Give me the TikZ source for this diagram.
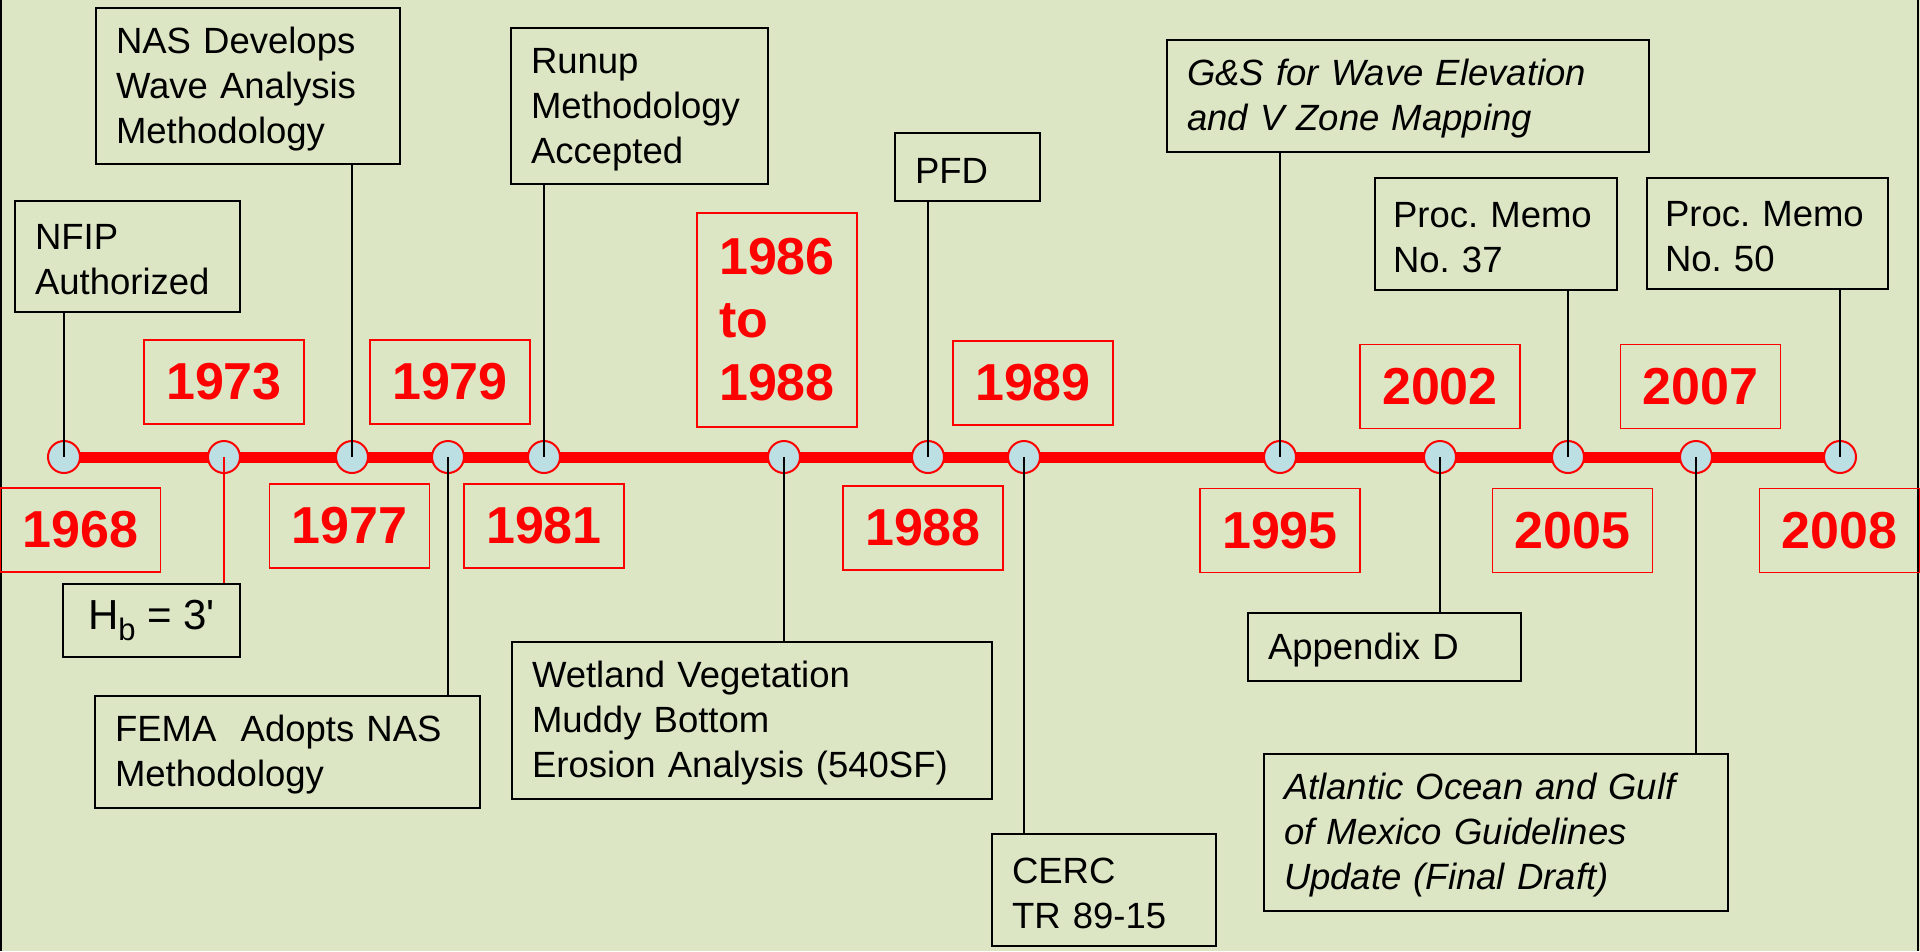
\documentclass[tikz,border=0pt]{standalone}
\usepackage{fontspec}
\setmainfont{Liberation Sans}
\newfontfamily\hbfont[Ligatures=TeXOff]{Liberation Sans}
\definecolor{bgc}{RGB}{220,230,197}
\definecolor{dotc}{RGB}{188,223,228}
\definecolor{tlred}{RGB}{255,0,0}
\newcommand\evfont{\fontsize{36.5}{45}\selectfont\frenchspacing}
\newcommand\yrfont{\fontsize{52}{63}\selectfont\bfseries}
\begin{document}
\frenchspacing
\begin{tikzpicture}[x=1pt,y=-1pt,
  evbox/.style={draw=black, line width=2.5pt, inner sep=0pt, align=left, font=\evfont, text=black, text height=32pt},
  yrbox/.style={draw=tlred, line width=1.8pt, inner sep=0pt, align=center, font=\yrfont, text=tlred, minimum width=160pt, minimum height=84pt},
  dot/.style={circle, draw=tlred, fill=dotc, line width=2pt, minimum size=32pt, inner sep=0pt},
  timeline/.style={draw=tlred, line width=11pt},
  conn/.style={draw=black, line width=2pt},
  rconn/.style={draw=tlred, line width=2pt},
  frame/.style={draw=black, line width=1.5pt}]
\fill[bgc] (0,0) rectangle (1920,951);
\useasboundingbox (0,0) rectangle (1920,951);
\coordinate (fl1) at (1,0); \coordinate (fl2) at (1,951);
\coordinate (fr1) at (1918,0); \coordinate (fr2) at (1918,951);
\draw[frame] (fl1) -- (fl2);
\draw[frame] (fr1) -- (fr2);

% timeline positions
\coordinate (p1968) at (64,457);
\coordinate (p1973) at (224,457);
\coordinate (p1977) at (352,457);
\coordinate (p1979) at (448,457);
\coordinate (p1981) at (544,457);
\coordinate (p1986) at (784,457);
\coordinate (p1988) at (928,457);
\coordinate (p1989) at (1024,457);
\coordinate (p1995) at (1280,457);
\coordinate (p2002) at (1440,457);
\coordinate (p2005) at (1568,457);
\coordinate (p2007) at (1696,457);
\coordinate (p2008) at (1840,457);
\draw[timeline] (p1968) -- (p2008);
\foreach \n in {1968,1973,1977,1979,1981,1986,1988,1989,1995,2002,2005,2007,2008}
  \node[dot] (d\n) at (p\n) {};

% year boxes
\node[yrbox] (y1968) at (80.5,530) {1968};
\node[yrbox] (y1973) at (224,382) {1973};
\node[yrbox] (y1977) at (349.5,526) {1977};
\node[yrbox] (y1979) at (450,382) {1979};
\node[yrbox] (y1981) at (544,526) {1981};
\node[yrbox, minimum height=214pt, align=left] (y1986) at (777,320) {1986\\to\\1988};
\node[yrbox] (y1988) at (923,528) {1988};
\node[yrbox] (y1989) at (1033,383) {1989};
\node[yrbox] (y1995) at (1280,530.5) {1995};
\node[yrbox] (y2002) at (1440,386.5) {2002};
\node[yrbox] (y2005) at (1572.5,530.5) {2005};
\node[yrbox] (y2007) at (1700.5,386.5) {2007};
\node[yrbox] (y2008) at (1839.5,530.5) {2008};

% event boxes
\node[evbox, minimum width=225pt, minimum height=111pt, text width=185pt] (nfip) at (127.5,256.5) {NFIP\\Authorized};
\node[evbox, minimum width=304pt, minimum height=156pt, text width=264pt] (nas) at (248,86) {NAS Develops\\Wave Analysis\\Methodology};
\node[evbox, minimum width=257pt, minimum height=156pt, text width=217pt] (runup) at (639.5,106) {Runup\\Methodology\\Accepted};
\node[evbox, minimum width=145pt, minimum height=68pt, text width=105pt] (pfd) at (967.5,167) {PFD};
\node[evbox, minimum width=482pt, minimum height=112pt, text width=442pt, font=\evfont\itshape] (gs) at (1408,96) {G\&S for Wave Elevation\\and V Zone Mapping};
\node[evbox, minimum width=242pt, minimum height=112pt, text width=206pt] (m37) at (1496,234) {Proc. Memo\\No. 37};
\node[evbox, minimum width=241pt, minimum height=111pt, text width=205pt] (m50) at (1767.5,233.5) {Proc. Memo\\No. 50};
\node[evbox, minimum width=177pt, minimum height=73pt, align=center, text height=30pt, font=\fontsize{42}{48}\selectfont\hbfont] (hb) at (151.5,620.5) {H\raisebox{-11pt}{\fontsize{31}{31}\selectfont b} = 3'};
\node[evbox, minimum width=385pt, minimum height=112pt, text width=345pt] (fema) at (287.5,752) {FEMA~ Adopts NAS\\Methodology};
\node[evbox, minimum width=480pt, minimum height=157pt, text width=440pt] (wet) at (752,720.5) {Wetland Vegetation\\Muddy Bottom\\Erosion Analysis (540SF)};
\node[evbox, minimum width=273pt, minimum height=68pt, text width=233pt] (appd) at (1384.5,647) {Appendix D};
\node[evbox, minimum width=224pt, minimum height=112pt, text width=184pt] (cerc) at (1104,890) {CERC\\TR 89-15};
\node[evbox, minimum width=464pt, minimum height=157pt, text width=424pt, font=\evfont\itshape] (atl) at (1496,832.5) {Atlantic Ocean and Gulf\\of Mexico Guidelines\\Update (Final Draft)};

% connectors
\draw[conn] (nfip.south -| d1968.center) -- (d1968.center);
\draw[rconn] (d1973.center) -- (d1973.center |- hb.north);
\draw[conn] (nas.south -| d1977.center) -- (d1977.center);
\draw[conn] (d1979.center) -- (d1979.center |- fema.north);
\draw[conn] (runup.south -| d1981.center) -- (d1981.center);
\draw[conn] (d1986.center) -- (d1986.center |- wet.north);
\draw[conn] (pfd.south -| d1988.center) -- (d1988.center);
\draw[conn] (d1989.center) -- (d1989.center |- cerc.north);
\draw[conn] (gs.south -| d1995.center) -- (d1995.center);
\draw[conn] (d2002.center) -- (d2002.center |- appd.north);
\draw[conn] (m37.south -| d2005.center) -- (d2005.center);
\draw[conn] (d2007.center) -- (d2007.center |- atl.north);
\draw[conn] (m50.south -| d2008.center) -- (d2008.center);
\end{tikzpicture}
\end{document}
